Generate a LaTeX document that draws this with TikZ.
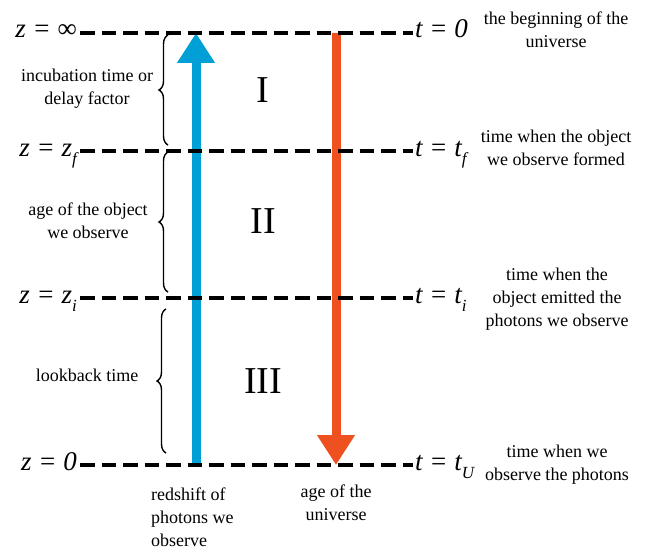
\documentclass[tikz,border=0pt]{standalone}
\usepackage{fontspec}
\setmainfont{Liberation Serif}
\usetikzlibrary{positioning,arrows.meta,decorations.pathreplacing}
\definecolor{photonblue}{HTML}{00A0D6}
\definecolor{ageorange}{HTML}{EE5020}
\newcommand{\lowsub}[1]{\raisebox{-0.32em}{\fontsize{17}{17}\selectfont\itshape #1}}

\begin{document}
\begin{tikzpicture}[
    x=1pt, y=-1pt,
    every node/.style={inner sep=0pt, align=center, font=\fontsize{18}{23}\selectfont},
    lvl/.style={font=\fontsize{27}{30}\selectfont\itshape},
    era/.style={font=\fontsize{38}{40}\selectfont},
    epoch/.style={line width=4pt, dash pattern=on 14.5pt off 7pt},
    span/.style={decorate, decoration={brace, amplitude=9pt}, line width=1.4pt},
    bigarrow/.style={line width=9pt, -{Triangle[width=36pt,length=30pt]}},
  ]
    \useasboundingbox (0,0) rectangle (648,551);

    % line ends
    \coordinate (la) at (80,33);  \coordinate (ra) at (413,33);
    \coordinate (lb) at (80,151); \coordinate (rb) at (413,151);
    \coordinate (lc) at (80,298); \coordinate (rc) at (413,298);
    \coordinate (ld) at (80,465); \coordinate (rd) at (413,465);

    % arrows
    \coordinate (photonstart) at (196,465);
    \coordinate (photonend) at (196,33);
    \coordinate (agestart) at (336,33);
    \coordinate (ageend) at (336,465);
    \draw[bigarrow, photonblue] (photonstart) -- (photonend);
    \draw[bigarrow, ageorange] (agestart) -- (ageend);

    % epochs
    \draw[epoch] (la) -- (ra);
    \draw[epoch] (lb) -- (rb);
    \draw[epoch] (lc) -- (rc);
    \draw[epoch] (ld) -- (rd);

    \node[lvl, anchor=base east] (zinf) at (77,38) {z = \upshape ∞};
    \node[lvl, anchor=base east] (zf) at (77,156) {z = z\lowsub{f}};
    \node[lvl, anchor=base east] (zi) at (77,303) {z = z\lowsub{i}};
    \node[lvl, anchor=base east] (zzero) at (77,470) {z = 0};

    \node[lvl, anchor=base west] (tzero) at (415,38) {t = 0};
    \node[lvl, anchor=base west] (tf) at (415,156) {t = t\lowsub{f}};
    \node[lvl, anchor=base west] (ti) at (415,303) {t = t\lowsub{i}};
    \node[lvl, anchor=base west] (tu) at (415,470) {t = t\lowsub{U}};

    \node (beginning) at (556,30) {the beginning of the\\universe};
    \node (formed) at (556,148) {time when the object\\we observe formed};
    \node (emitted) at (557,299) {time when the\\object emitted the\\photons we observe};
    \node (observed) at (557,465) {time when we\\observe the photons};

    % braces
    \draw[span] (168,145) -- (168,35);
    \draw[span] (168,292) -- (168,152);
    \draw[span] (166,453) -- (166,309);

    \node (incubation) at (87,89) {incubation time or\\delay factor};
    \node (objage) at (88,221) {age of the object\\we observe};
    \node (lookback) at (87,375) {lookback time};

    \node[era] (eraI) at (263,90) {I};
    \node[era] (eraII) at (263,221) {II};
    \node[era] (eraIII) at (263,381) {III};

    \node[anchor=west, align=left] (redshift) at (151,517) {redshift of\\photons we\\observe};
    \node (uniage) at (336,503) {age of the\\universe};
  \end{tikzpicture}
\end{document}
